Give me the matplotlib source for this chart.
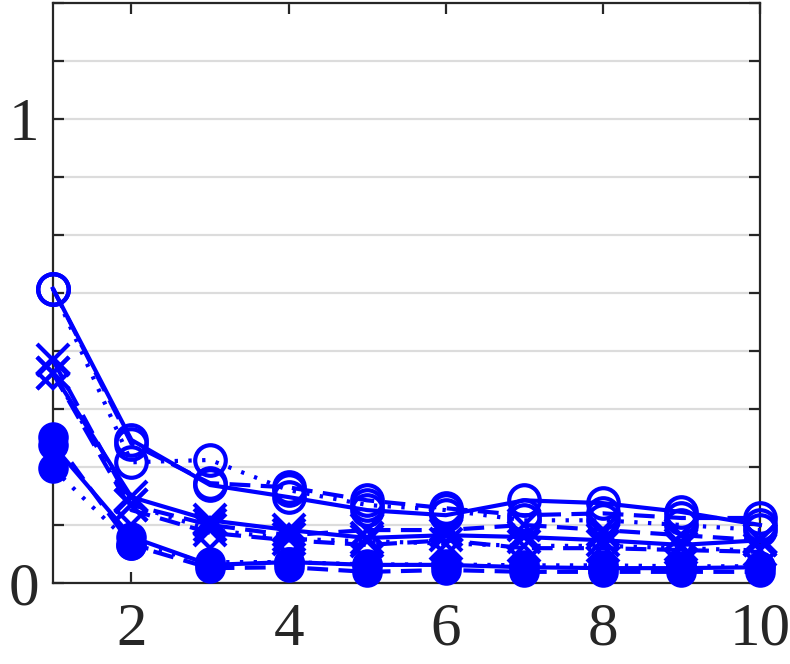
import matplotlib
matplotlib.use("Agg")
import matplotlib.pyplot as plt
import numpy as np

plt.rcParams['font.family'] = ['Liberation Serif', 'DejaVu Serif']

x = [1, 2, 3, 4, 5, 6, 7, 8, 9, 10]

circ_solid  = [0.634, 0.308, 0.211, 0.185, 0.157, 0.146, 0.178, 0.172, 0.153, 0.125]
circ_dotted = [0.634, 0.260, 0.265, 0.200, 0.168, 0.157, 0.135, 0.135, 0.125, 0.114]
circ_dashed = [0.634, 0.300, 0.215, 0.206, 0.178, 0.161, 0.146, 0.150, 0.140, 0.140]

x_solid  = [0.452, 0.185, 0.135, 0.114, 0.097, 0.103, 0.099, 0.092, 0.082, 0.092]
x_dashed = [0.480, 0.168, 0.125, 0.103, 0.114, 0.114, 0.125, 0.114, 0.103, 0.092]
x_dotted = [0.452, 0.168, 0.115, 0.095, 0.090, 0.085, 0.080, 0.080, 0.075, 0.070]

diam_dashed = [0.452, 0.157, 0.108, 0.092, 0.082, 0.092, 0.075, 0.075, 0.071, 0.067]

fill_solid  = [0.297, 0.099, 0.039, 0.045, 0.039, 0.039, 0.034, 0.032, 0.032, 0.034]
fill_dashed = [0.314, 0.082, 0.032, 0.034, 0.024, 0.028, 0.024, 0.024, 0.024, 0.024]
fill_dotted = [0.247, 0.082, 0.045, 0.045, 0.040, 0.040, 0.038, 0.038, 0.036, 0.036]

yticks = [0, 0.125, 0.25, 0.375, 0.5, 0.625, 0.75, 0.875, 1.0, 1.125, 1.25]
ytick_labels = ['0', '', '', '', '', '', '', '', '1', '', '']
xticks = [2, 4, 6, 8, 10]
xtick_labels = ['2', '4', '6', '8', '10']

blue = (0, 0, 1)

fig = plt.figure(figsize=(7.9, 6.64), dpi=100)
ax = fig.add_axes([0.067, 0.122, 0.895, 0.874])

dashed = (0, (5, 2.5))
dotted = (0, (0.8, 2.5))

series = [
    (circ_solid, '-', 'o', 'none', 22),
    (circ_dotted, dotted, 'o', 'none', 22),
    (circ_dashed, dashed, 'o', 'none', 22),
    (x_solid, '-', 'x', 'none', 23),
    (x_dashed, dashed, 'x', 'none', 23),
    (x_dotted, dotted, 'x', 'none', 23),
    (diam_dashed, dashed, 'D', 'none', 15),
    (fill_solid, '-', 'o', blue, 19),
    (fill_dashed, dashed, 'o', blue, 19),
    (fill_dotted, dotted, 'o', blue, 19),
]

for ys, ls, mk, fc, ms in series:
    ax.plot(x, ys, linestyle=ls, color=blue, lw=3.0, marker=mk,
            markersize=ms, markerfacecolor=fc, markeredgecolor=blue,
            markeredgewidth=3.0, clip_on=False, zorder=3)

ax.set_xlim(1, 10)
ax.set_ylim(0, 1.25)
ax.set_yticks(yticks)
ax.set_yticklabels(ytick_labels)
ax.set_xticks(xticks)
ax.set_xticklabels(xtick_labels)

ax.yaxis.grid(True, color='#dcdcdc', lw=1.6)
ax.set_axisbelow(True)

for s in ax.spines.values():
    s.set_color('#262626')
    s.set_linewidth(1.6)

ax.tick_params(axis='both', direction='in', length=8, width=1.6, color='#262626',
               labelsize=44, labelcolor='#262626', top=True, right=True)
ax.tick_params(axis='x', pad=14)
ax.tick_params(axis='y', pad=10)

fig.savefig('out.png', dpi=100)
